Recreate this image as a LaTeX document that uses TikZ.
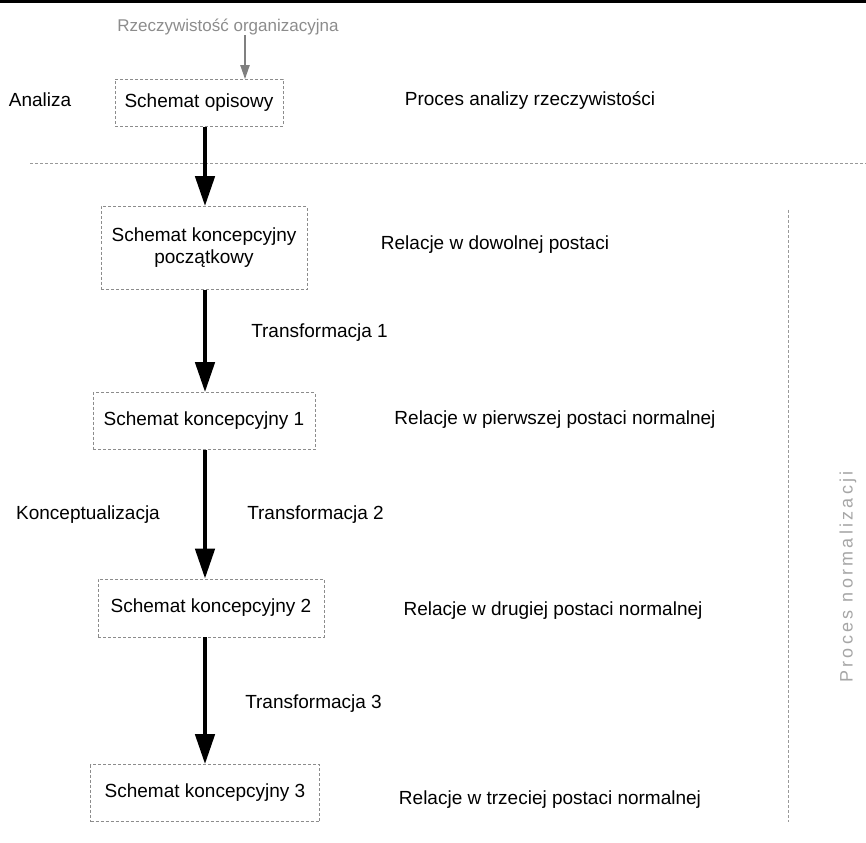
\documentclass[tikz,border=0pt]{standalone}
\usepackage{fontspec}
\setmainfont{Liberation Sans}
\usetikzlibrary{arrows.meta,positioning}
\tikzset{
  schema/.style={rectangle, draw=black!45, densely dashed, line width=0.6pt,
    align=center, font=\fontsize{19}{22}\selectfont, inner sep=3pt},
  note/.style={font=\fontsize{19}{22}\selectfont, inner sep=0pt},
  faint/.style={font=\fontsize{17}{20}\selectfont, inner sep=0pt, text=black!45},
  flow/.style={-{Triangle[length=30pt,width=19pt]}, line width=4.5pt, draw=black},
  sep/.style={draw=black!40, densely dashed, line width=0.6pt},
}

\begin{document}
\begin{tikzpicture}[x=1pt,y=-1pt]
  \useasboundingbox (0,0) rectangle (866,842);
  \draw[line width=3pt] (0,1.5) -- (866,1.5);
  % etap analizy
  \node[faint] (real) at (228,27) {Rzeczywistość organizacyjna};
  \node[schema, minimum width=168pt, minimum height=47pt] (opis) at (199,103) {Schemat opisowy};
  \node[note] (analiza) at (40,100) {Analiza};
  \node[note] (panal) at (530,100) {Proces analizy rzeczywistości};
  \draw[-{Triangle[length=14pt,width=9pt]}, line width=2pt, draw=black!50] (real.south -| 245,0) -- (opis.north -| 245,0);
  \coordinate (hl) at (30,163);
  \coordinate (hr) at (866,163);
  \draw[sep] (hl) -- (hr);
  % etap konceptualizacji
  \node[schema, minimum width=206pt, minimum height=83pt] (kpocz) at (204,248) {Schemat koncepcyjny\\początkowy};
  \node[schema, minimum width=222pt, minimum height=57pt] (k1) at (204,421) {Schemat koncepcyjny 1};
  \node[schema, minimum width=226pt, minimum height=58pt] (k2) at (211,608) {Schemat koncepcyjny 2};
  \node[schema, minimum width=229pt, minimum height=57pt] (k3) at (205,793) {Schemat koncepcyjny 3};
  \node[note] (konc) at (88,515) {Konceptualizacja};
  \draw[flow] (opis.south -| 205,0) -- (kpocz.north -| 205,0);
  \draw[flow] (kpocz.south -| 205,0) -- node[note, right=44pt, pos=0.42]{Transformacja 1} (k1.north -| 205,0);
  \draw[flow] (k1.south -| 205,0) -- node[note, right=40pt, pos=0.5]{Transformacja 2} (k2.north -| 205,0);
  \draw[flow] (k2.south -| 205,0) -- node[note, right=38pt, pos=0.52]{Transformacja 3} (k3.north -| 205,0);
  \node[note] (r0) at (495,245) {Relacje w dowolnej postaci};
  \node[note] (r1) at (555,420) {Relacje w pierwszej postaci normalnej};
  \node[note] (r2) at (553,611) {Relacje w drugiej postaci normalnej};
  \node[note] (r3) at (550,800) {Relacje w trzeciej postaci normalnej};
  % normalizacja
  \coordinate (vt) at (788,210);
  \coordinate (vb) at (788,822);
  \draw[sep] (vt) -- (vb);
  \node[faint, text=black!35, rotate=90, font=\fontsize{18}{20}\selectfont\addfontfeature{LetterSpace=18}] (norm) at (848,577) {Proces normalizacji};
\end{tikzpicture}
\end{document}
